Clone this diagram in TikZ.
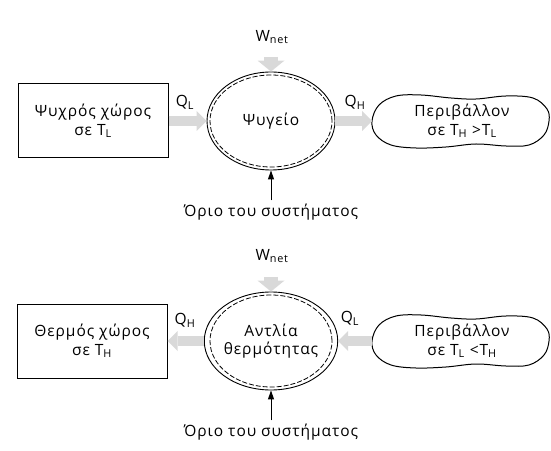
\documentclass[tikz,border=0pt]{standalone}
\usepackage{fontspec}
\setmainfont[LetterSpace=6]{Open Sans}
\usetikzlibrary{arrows.meta,shapes.geometric}
\tikzset{
  fatarrow/.style={line width=10pt,gray!30,-{Triangle[width=20pt,length=10pt,line width=0pt]}},
  workarrow/.style={line width=14pt,gray!30,-{Triangle[width=27pt,length=11pt,line width=0pt]}},
  boundarrow/.style={line width=1pt,-{Triangle[width=6pt,length=9pt]}},
  sysellipse/.style={ellipse,draw,line width=0.9pt,minimum width=128pt,minimum height=98pt,inner sep=0pt,align=center},
  roombox/.style={draw,line width=1pt,minimum width=150pt,minimum height=74pt,align=center},
}
\begin{document}
\begin{tikzpicture}[x=1pt,y=1pt,font=\fontsize{15.5}{18.5}\selectfont]
\useasboundingbox (0,0) rectangle (551,450);
% refrigerator
\begin{scope}[shift={(271,329)}]
\node[sysellipse] (psy) at (0,0) {Ψυγείο};
\draw[dashed,dash pattern=on 5pt off 2pt,line width=0.8pt] (psy.center) ellipse (61 and 46);
\node[roombox] (cold) at (-178,0) {Ψυχρός χώρος\\σε T\textsubscript{L}};
\draw[line width=1pt] plot[smooth cycle,tension=0.6] coordinates {(101,0) (108,16) (125,25) (150,26) (180,23) (205,22) (235,25) (262,23) (276,12) (278,0) (273,-14) (258,-24) (235,-25) (205,-23) (175,-26) (145,-27) (120,-24) (105,-14)};
\node[align=center] (envA) at (191,0) {Περιβάλλον\\σε T\textsubscript{H} >T\textsubscript{L}};
\coordinate (envAw) at (101,0);
\node (wA) at (1,84) {W\textsubscript{net}};
\coordinate (wAs) at (0,64);
\draw[workarrow] (wAs) -- (psy.north);
\draw[fatarrow] (cold.east) -- (psy.west);
\draw[fatarrow] (psy.east) -- (envAw);
\node (qlA) at (-86,19) {Q\textsubscript{L}};
\node (qhA) at (84,19) {Q\textsubscript{H}};
\node (orioA) at (0,-91) {Όριο του συστήματος};
\draw[boundarrow] (orioA.north) -- (psy.south);
\end{scope}
% heat pump
\begin{scope}[shift={(271,109)}]
\node[sysellipse] (pump) at (0,0) {Αντλία\\θερμότητας};
\draw[dashed,dash pattern=on 5pt off 2pt,line width=0.8pt] (pump.center) ellipse (61 and 46);
\node[roombox] (warm) at (-179,0) {Θερμός χώρος\\σε T\textsubscript{H}};
\draw[line width=1pt] plot[smooth cycle,tension=0.6] coordinates {(101,0) (108,16) (125,25) (150,26) (180,23) (205,22) (235,25) (262,23) (276,12) (278,0) (273,-14) (258,-24) (235,-25) (205,-23) (175,-26) (145,-27) (120,-24) (105,-14)};
\node[align=center] (envB) at (191,0) {Περιβάλλον\\σε T\textsubscript{L} <T\textsubscript{H}};
\coordinate (envBw) at (101,0);
\node (wB) at (1,85) {W\textsubscript{net}};
\coordinate (wBs) at (0,64);
\draw[workarrow] (wBs) -- (pump.north);
\draw[fatarrow] (pump.west) -- (warm.east);
\draw[fatarrow] (envBw) -- (pump.east);
\node (qhB) at (-86,21) {Q\textsubscript{H}};
\node (qlB) at (79,23) {Q\textsubscript{L}};
\node (orioB) at (0,-91) {Όριο του συστήματος};
\draw[boundarrow] (orioB.north) -- (pump.south);
\end{scope}
\end{tikzpicture}
\end{document}
